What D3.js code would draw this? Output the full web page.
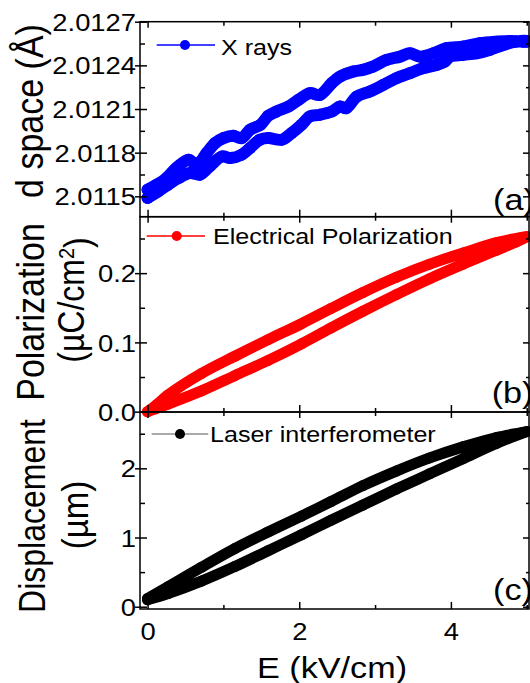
<!DOCTYPE html>
<html>
<head>
<meta charset="utf-8">
<script src="https://cdn.jsdelivr.net/npm/d3@7"></script>
<style>
  body { margin: 0; background: #fff; }
  svg { display: block; }
  text { font-family: "Liberation Sans", Arial, sans-serif; fill: #000; }
</style>
</head>
<body>
<svg id="chart" width="530" height="683"></svg>
<script>
// ---- field axis (shared) ----
const fieldMajor = [0, 2, 4];
const fieldMinor = [1, 3, 5];

// ---- (a) X-ray d spacing, Å ----
const dMajor = [2.0115, 2.0118, 2.0121, 2.0124, 2.0127];
const dMinor = [2.01165, 2.01195, 2.01225, 2.01255];
const xrayLowerE = [0.0,0.14,0.27,0.41,0.56,0.69,0.82,0.98,1.09,1.24,1.35,1.48,1.59,1.77,1.90,2.03,2.14,2.27,2.43,2.54,2.62,2.76,2.93,3.11,3.28,3.46,3.63,3.81,3.92,3.99,4.16,4.34,4.51,4.69,4.86,5.0];
const xrayLowerD = [2.011489,2.011534,2.011580,2.011626,2.011660,2.011649,2.011706,2.011774,2.011763,2.011786,2.011832,2.011889,2.011900,2.011889,2.011935,2.011992,2.012049,2.012060,2.012083,2.012117,2.012106,2.012186,2.012220,2.012266,2.012312,2.012346,2.012380,2.012403,2.012426,2.012460,2.012472,2.012483,2.012506,2.012540,2.012563,2.012568];
const xrayUpperE = [0.0,0.12,0.25,0.38,0.54,0.65,0.78,0.89,1.00,1.13,1.24,1.35,1.49,1.59,1.70,1.86,1.99,2.14,2.27,2.43,2.54,2.71,2.84,2.97,3.15,3.33,3.46,3.59,3.77,3.94,4.16,4.38,4.60,4.78,4.95,5.0];
const xrayUpperD = [2.011546,2.011580,2.011626,2.011695,2.011752,2.011717,2.011798,2.011866,2.011900,2.011916,2.011900,2.011957,2.011992,2.012053,2.012083,2.012117,2.012163,2.012209,2.012197,2.012278,2.012323,2.012357,2.012369,2.012391,2.012437,2.012460,2.012483,2.012460,2.012483,2.012518,2.012529,2.012552,2.012563,2.012568,2.012563,2.012563];

// ---- (b) electrical polarization, µC/cm² ----
const pMajor = [0.0, 0.1, 0.2];
const pMinor = [0.05, 0.15, 0.25];
const polLowerE = [0.0,0.10,0.27,0.71,1.15,1.59,2.03,2.42,2.84,3.28,3.72,4.16,4.60,4.86,5.0];
const polLowerP = [0.0,0.004,0.011,0.030,0.052,0.074,0.098,0.121,0.145,0.169,0.192,0.213,0.233,0.245,0.2525];
const polUpperE = [0.0,0.12,0.27,0.71,1.15,1.59,2.03,2.42,2.84,3.28,3.72,4.16,4.60,4.93,5.0];
const polUpperP = [0.0,0.010,0.024,0.055,0.080,0.104,0.127,0.149,0.172,0.194,0.213,0.229,0.244,0.2515,0.2525];

// ---- (c) laser interferometer displacement, µm ----
const uMajor = [0, 1, 2];
const uMinor = [0.5, 1.5, 2.5];
const lasLowerE = [0.0,0.27,0.71,1.15,1.59,2.03,2.42,2.84,3.28,3.72,4.16,4.60,5.0];
const lasLowerD = [0.10,0.19,0.37,0.58,0.81,1.04,1.25,1.47,1.70,1.92,2.14,2.36,2.53];
const lasUpperE = [0.0,0.27,0.71,1.15,1.59,2.03,2.42,2.84,3.28,3.72,4.16,4.60,4.93,5.0];
const lasUpperD = [0.12,0.29,0.57,0.84,1.08,1.31,1.52,1.75,1.96,2.15,2.31,2.445,2.515,2.53];

// ---- drawing ----
const SX = 1.14;          // horizontal stretch applied to all lettering
const svg = d3.select("#chart");
const left = 140, right = 529;
const x = d3.scaleLinear().domain([-0.1, 5.03]).range([left, right]);

const panels = [
  { top: 21.7, bottom: 216.7, domain: [2.01136, 2.0127], major: dMajor, minor: dMinor, fmt: d3.format(".4f"),
    lower: [xrayLowerE, xrayLowerD], upper: [xrayUpperE, xrayUpperD], color: "#0000ff", band: 12,
    legend: { x1: 156.7, x2: 215, y: 45, dot: 185, tx: 221, ty: 55, text: "X rays", line: "#0000ff", dotColor: "#0000ff" },
    tag: { x: 493, y: 210, text: "(a)" } },
  { top: 216.7, bottom: 412, domain: [-0.0005, 0.2815], major: pMajor, minor: pMinor, fmt: d3.format(".1f"),
    lower: [polLowerE, polLowerP], upper: [polUpperE, polUpperP], color: "#ff0000", band: 11,
    legend: { x1: 146.7, x2: 205, y: 236, dot: 176.7, tx: 213, ty: 244, text: "Electrical Polarization", line: "#ff0000", dotColor: "#ff0000" },
    tag: { x: 491.7, y: 403, text: "(b)" } },
  { top: 412, bottom: 609, domain: [-0.033, 2.814], major: uMajor, minor: uMinor, fmt: d3.format("d"),
    lower: [lasLowerE, lasLowerD], upper: [lasUpperE, lasUpperD], color: "#000000", band: 11,
    legend: { x1: 151.7, x2: 208.3, y: 434, dot: 180, tx: 210, ty: 442, text: "Laser interferometer", line: "#8c8c8c", dotColor: "#000000" },
    tag: { x: 493, y: 600, text: "(c)" } }
];

function stripDomain(g) { g.select(".domain").remove(); g.selectAll("line").attr("stroke", "#000").attr("stroke-width", 1.5); }

panels.forEach((p, i) => {
  const y = d3.scaleLinear().domain(p.domain).range([p.bottom, p.top]);
  const g = svg.append("g");

  // hysteresis loop: lower branch out, upper branch back
  const pts = [];
  p.lower[0].forEach((e, k) => pts.push([e, p.lower[1][k]]));
  const back = [];
  p.upper[0].forEach((e, k) => back.push([e, p.upper[1][k]]));
  back.reverse().forEach(d => pts.push(d));
  const line = d3.line().x(d => x(d[0])).y(d => y(d[1])).curve(d3.curveCatmullRom);
  g.append("path").attr("d", line(pts)).attr("fill", "none")
    .attr("stroke", p.color).attr("stroke-width", p.band)
    .attr("stroke-linejoin", "round").attr("stroke-linecap", "round");
  g.selectAll("circle.pt").data(pts).join("circle").attr("class", "pt")
    .attr("cx", d => x(d[0])).attr("cy", d => y(d[1])).attr("r", p.band / 2)
    .attr("fill", p.color);

  // left axis: labelled major ticks crossing the spine, minor ticks inside
  const la = g.append("g").attr("transform", `translate(${left},0)`)
    .call(d3.axisLeft(y).tickValues(p.major).tickSize(5).tickFormat(p.fmt)).call(stripDomain);
  la.selectAll("text").attr("x", 0).attr("dy", "0.36em")
    .attr("transform", `translate(-4,0) scale(${SX},1)`)
    .style("font-size", "24px").style("font-family", '"Liberation Sans", Arial, sans-serif');
  g.append("g").attr("transform", `translate(${left},0)`)
    .call(d3.axisRight(y).tickValues(p.major).tickSize(7).tickFormat("")).call(stripDomain);
  g.append("g").attr("transform", `translate(${left},0)`)
    .call(d3.axisRight(y).tickValues(p.minor.filter(v => v >= p.domain[0] && v <= p.domain[1])).tickSize(5).tickFormat("")).call(stripDomain);

  // right spine ticks, inward
  g.append("g").attr("transform", `translate(${right},0)`)
    .call(d3.axisLeft(y).tickValues(p.major).tickSize(6).tickFormat("")).call(stripDomain);
  g.append("g").attr("transform", `translate(${right},0)`)
    .call(d3.axisLeft(y).tickValues(p.minor.filter(v => v >= p.domain[0] && v <= p.domain[1])).tickSize(3).tickFormat("")).call(stripDomain);

  // field ticks on bottom and top spines, inward
  g.append("g").attr("transform", `translate(0,${p.bottom})`)
    .call(d3.axisTop(x).tickValues(fieldMajor).tickSize(7).tickFormat("")).call(stripDomain);
  g.append("g").attr("transform", `translate(0,${p.bottom})`)
    .call(d3.axisTop(x).tickValues(fieldMinor).tickSize(4).tickFormat("")).call(stripDomain);
  g.append("g").attr("transform", `translate(0,${p.top})`)
    .call(d3.axisBottom(x).tickValues(fieldMajor).tickSize(6).tickFormat("")).call(stripDomain);
  g.append("g").attr("transform", `translate(0,${p.top})`)
    .call(d3.axisBottom(x).tickValues(fieldMinor).tickSize(4).tickFormat("")).call(stripDomain);

  // frame
  g.append("rect").attr("x", left).attr("y", p.top).attr("width", right - left).attr("height", p.bottom - p.top)
    .attr("fill", "none").attr("stroke", "#000").attr("stroke-width", 1.5);

  // legend
  const L = p.legend;
  g.append("line").attr("x1", L.x1).attr("x2", L.x2).attr("y1", L.y).attr("y2", L.y)
    .attr("stroke", L.line).attr("stroke-width", 1.5);
  g.append("circle").attr("cx", L.dot).attr("cy", L.y).attr("r", 5).attr("fill", L.dotColor);
  g.append("text").attr("transform", `translate(${L.tx},${L.ty}) scale(${SX},1)`)
    .style("font-size", "22px").text(L.text);

  // panel tag
  g.append("text").attr("transform", `translate(${p.tag.x},${p.tag.y}) scale(${SX},1)`)
    .style("font-size", "30px").text(p.tag.text);

  // field labels under the last panel
  if (i === panels.length - 1) {
    const ba = g.append("g").attr("transform", `translate(0,${p.bottom})`)
      .call(d3.axisBottom(x).tickValues(fieldMajor).tickSize(0).tickFormat(d3.format("d"))).call(stripDomain);
    ba.selectAll("text").attr("y", 0).attr("dy", 0)
      .attr("transform", `translate(0,31) scale(${SX},1)`)
      .style("font-size", "24px").style("font-family", '"Liberation Sans", Arial, sans-serif');
  }
});

// axis titles
function vtitle(xp, yp, size) {
  return svg.append("text").attr("text-anchor", "middle")
    .attr("transform", `translate(${xp},${yp}) scale(${SX},1) rotate(-90)`)
    .style("font-size", size + "px");
}
vtitle(43, 111, 34).text("d space (Å)");
vtitle(43.5, 312, 34).text("Polarization");
const pu = vtitle(84, 300, 32);
pu.append("tspan").text("(µC/cm");
pu.append("tspan").attr("dy", "-0.45em").style("font-size", "20px").text("2");
pu.append("tspan").attr("dy", "0.45em").text(")");
vtitle(45, 516, 32).text("Displacement");
vtitle(88, 515, 33).text("(µm)");

svg.append("text").attr("text-anchor", "middle")
  .attr("transform", `translate(332,678) scale(${SX},1)`)
  .style("font-size", "30px").text("E (kV/cm)");
</script>
</body>
</html>
